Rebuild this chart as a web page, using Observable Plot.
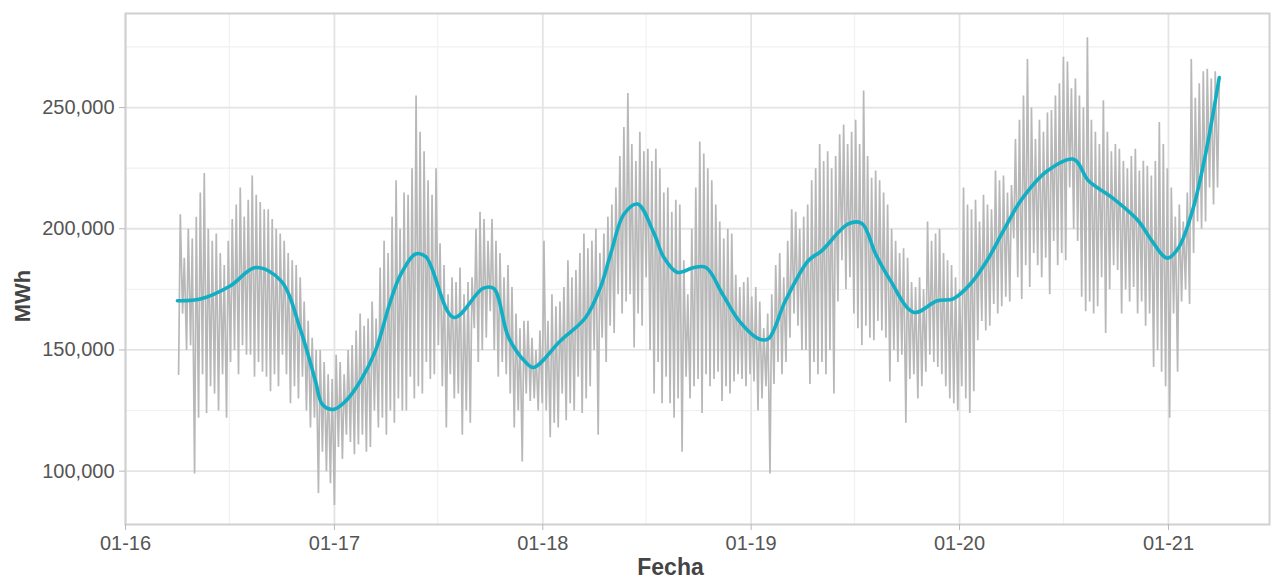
<!DOCTYPE html>
<html><head><meta charset="utf-8">
<script src="https://cdn.jsdelivr.net/npm/d3@7"></script>
<script src="https://cdn.jsdelivr.net/npm/@observablehq/plot@0.6"></script>
<style>
html,body{margin:0;padding:0;background:#fff;}
#chart svg{display:block;}
</style>
</head><body><div id="chart"></div>
<script>
// ---- data (MWh, thousands) ----
const weekStart = "2016-04-03"; // first Sunday of the series
// weekend (low) value of each week
const weekLowK = [
  // 2016 Apr..Dec
  140,165,150,152, 99,122,140,124,135, 132,125,140,122, 145,150,140,152,148, 148,139,145,141, 139,133,140,135, 148,140,128,135,130, 139,125,118,122, 91,108,100,95,
  // 2017
  86,110,105,115,112, 107,111,115,108, 110,125,118,122, 115,125,120,130,125, 125,139,130,135, 132,145,138,140, 152,135,118,140,130, 132,115,125,120, 159,145,150,155, 166,150,139,145,140, 132,118,125,104, 132,129,130,125,128,
  // 2018
  125,114,120,118, 132,121,128,125, 139,124,130,135, 150,115,155,145,160, 157,173,165,170, 173,151,165,160, 180,150,132,145,128, 139,128,122,130, 108,139,130,135,138, 124,140,135,138, 141,129,135,132, 137,140,138,135,140,
  // 2019
  137,125,130,135, 99,136,145,140, 145,155,165,160,150, 150,136,145,140, 145,140,150,132, 170,187,175,180,165, 159,152,160,155, 154,162,158,155, 137,150,145,148,120, 138,140,130,135, 141,148,145,143, 140,135,130,128,125,
  // 2020
  135,130,124,133, 154,162,158,160, 169,165,168,172,170, 196,180,171,185, 176,190,185,180,188, 173,195,185,190, 187,217,200,195, 172,166,170,165,168, 180,157,175,185, 183,165,175,170, 176,165,170,160,165, 143,150,141,135,
  // 2021 Jan..Mar
  122,165,141,170,175, 169,190,203,200, 203,217,210,217
];
// mid-week (high) value of each week
const weekHighK = [
  // 2016
  206,188,200,196, 205,215,223,200,195, 198,190,185,195, 204,210,217,205,212, 222,214,211,208, 208,204,200,198, 195,190,187,185,180, 170,162,155,150, 150,145,140,138,
  // 2017
  148,145,140,150,152, 158,165,160,163, 170,163,184,195, 190,205,220,200,215, 214,225,255,240, 232,220,214,225, 194,185,173,180,178, 184,173,178,180, 200,207,204,195, 204,195,190,180,185, 176,165,159,162, 162,155,150,158,195,
  // 2018
  162,173,168,170, 176,187,180,183, 190,198,192,195, 200,190,198,205,210, 217,230,242,256, 235,228,240,232, 233,228,233,225,215, 217,207,212,210, 187,173,200,217,236, 231,225,220,210, 203,196,200,198, 181,176,178,180,172,
  // 2019
  176,170,159,165, 173,185,190,180, 195,208,207,200,205, 210,220,225,235, 228,232,225,230, 239,243,235,240,245, 235,257,230,221, 224,220,215,210, 200,195,190,192,188, 178,176,180,175, 203,195,198,200, 190,187,185,180,175,
  // 2020
  217,210,208,212, 203,214,210,208, 224,220,222,215,218, 237,245,255,270, 250,237,245,240,248, 249,255,260,271, 269,258,262,255, 250,279,245,240,235, 253,240,232,235, 233,228,225,230, 233,224,228,226,222, 228,244,235,225,
  // 2021
  217,205,210,203,215, 270,254,260,265, 266,262,265,262
];
// smoothed trend
const trendDates = [
  "2016-04-01","2016-05-11","2016-07-03","2016-08-16","2016-09-29","2016-11-03","2016-11-29","2016-12-11","2016-12-31",
  "2017-01-21","2017-02-16","2017-03-14","2017-04-09","2017-04-26","2017-05-23","2017-06-10","2017-07-29","2017-09-18","2017-10-07","2017-11-02","2017-12-02","2017-12-16",
  "2018-02-01","2018-03-17","2018-04-12","2018-04-30","2018-05-23","2018-06-16","2018-07-15","2018-08-01","2018-08-25","2018-09-23","2018-10-14","2018-11-12","2018-12-11",
  "2019-01-15","2019-01-31","2019-03-02","2019-04-11","2019-05-05","2019-06-20","2019-07-14","2019-08-07","2019-09-02","2019-10-13","2019-11-23","2019-12-21",
  "2020-01-20","2020-02-18","2020-03-18","2020-04-17","2020-06-03","2020-07-19","2020-08-14","2020-09-24","2020-11-09","2020-12-03","2020-12-30",
  "2021-01-19","2021-02-12","2021-03-07","2021-03-31"
];
const trendK = [
  170.3,171.0,176.5,184.0,178.6,158.0,137.0,127.5,125.5,
  129.0,137.4,149.7,170.0,180.6,189.6,188.5,163.4,175.4,175.4,155.2,144.9,142.8,
  153.8,163.4,175.8,189.7,206.0,210.2,198.0,188.2,182.0,184.0,184.0,173.0,162.0,
  154.5,154.6,170.3,186.8,191.0,202.0,202.2,189.6,178.6,165.5,170.3,171.1,
  177.2,186.8,199.2,211.5,223.9,228.7,219.8,212.9,203.3,195.0,187.9,
  192.3,207.4,230.8,262.4
];
// axes
const xTickDates = ["2016-01-01","2017-01-01","2018-01-01","2019-01-01","2020-01-01","2021-01-01"];
const xMinorDates = ["2016-07-01","2017-07-01","2018-07-01","2019-07-01","2020-07-01"];
const yTicks = [100000,150000,200000,250000];
const yMinor = [125000,175000,225000,275000];
const xDomain = ["2016-01-01","2021-06-27"];
const yDomain = [78000,288800];
const xTitle = "Fecha";
const yTitle = "MWh";

// ---- build tables ----
const parse = s => new Date(s + "T00:00:00Z");
const start = parse(weekStart);
const daily = [];
weekLowK.forEach((lo, i) => {
  daily.push({date: d3.utcDay.offset(start, 7*i), mwh: lo*1000});
  if (weekHighK[i] != null) daily.push({date: d3.utcDay.offset(start, 7*i + 3), mwh: weekHighK[i]*1000});
});
const trend = trendDates.map((d, i) => ({date: parse(d), mwh: trendK[i]*1000}));

const font = "'Liberation Sans', Arial, Helvetica, sans-serif";
const chart = Plot.plot({
  width: 1272,
  height: 578,
  marginLeft: 125,
  marginRight: 3,
  marginTop: 13,
  marginBottom: 54,
  style: {fontFamily: font, background: "#fff", overflow: "visible"},
  x: {type: "utc", domain: xDomain.map(parse), axis: null},
  y: {domain: yDomain, axis: null},
  marks: [
    Plot.gridY(yMinor, {stroke: "#f1f1f1", strokeOpacity: 1, strokeWidth: 1.2}),
    Plot.gridX(xMinorDates.map(parse), {stroke: "#f1f1f1", strokeOpacity: 1, strokeWidth: 1.2}),
    Plot.gridY(yTicks, {stroke: "#e4e4e4", strokeOpacity: 1, strokeWidth: 1.8}),
    Plot.gridX(xTickDates.map(parse), {stroke: "#e4e4e4", strokeOpacity: 1, strokeWidth: 1.8}),
    Plot.line(daily, {x: "date", y: "mwh", stroke: "#b8b8b8", strokeWidth: 1.7, strokeLinejoin: "miter"}),
    Plot.line(trend, {x: "date", y: "mwh", stroke: "#12AEC4", strokeWidth: 3.6, curve: "catmull-rom"}),
    Plot.frame({stroke: "#d0d0d0", strokeWidth: 2}),
    Plot.axisX(xTickDates.map(parse), {tickFormat: d3.utcFormat("%m-%y"), tickSize: 6, tickPadding: 5, fontSize: 20, stroke: "#b8b8b8", fill: "#555555", label: null}),
    Plot.axisY(yTicks, {tickFormat: d3.format(","), tickSize: 6, tickPadding: 5, fontSize: 20, stroke: "#b8b8b8", fill: "#555555", label: null}),
    Plot.text([xTitle], {text: d => d, frameAnchor: "bottom", textAnchor: "middle", lineAnchor: "middle", dx: -27, dy: 43, fontSize: 23, fontWeight: "bold", fill: "#444444"}),
    Plot.text([yTitle], {text: d => d, frameAnchor: "left", textAnchor: "middle", lineAnchor: "middle", dx: -103, dy: 27, rotate: -90, fontSize: 22, fontWeight: "bold", fill: "#444444"})
  ]
});
document.getElementById("chart").appendChild(chart);
</script>
</body></html>
